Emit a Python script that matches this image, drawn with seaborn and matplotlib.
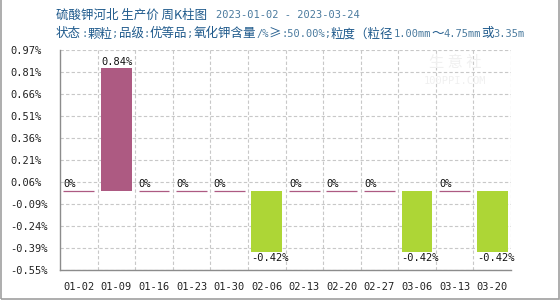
import matplotlib
matplotlib.use("Agg")
import matplotlib.pyplot as plt
import seaborn as sns
import numpy as np
import pandas as pd
import re
from matplotlib.patches import Rectangle

dates = ["01-02", "01-09", "01-16", "01-23", "01-30", "02-06",
         "02-13", "02-20", "02-27", "03-06", "03-13", "03-20"]
values = [0, 0.84, 0, 0, 0, -0.42, 0, 0, 0, -0.42, 0, -0.42]
title_main = "硫酸钾河北 生产价 周K柱图"
title_dates = "2023-01-02 - 2023-03-24"
subtitle = "状态:颗粒;品级:优等品;氧化钾含量/%≥:50.00%;粒度（粒径1.00mm～4.75mm或3.35m"

POS = "#AD5A82"
NEG = "#ADD636"

sns.set_theme(style="white")
plt.rcParams['font.family'] = ['DejaVu Sans Mono', 'Noto Sans CJK SC']

df = pd.DataFrame({"date": dates, "value": values})
colors = {d: (NEG if v < 0 else POS) for d, v in zip(dates, values)}

fig = plt.figure(figsize=(5.6, 3.0), dpi=100)
ax = fig.add_axes([60/560, 30/300, 451/560, 220/300])

sns.barplot(data=df, x="date", y="value", hue="date", palette=colors,
            legend=False, width=0.82, ax=ax, saturation=1,
            edgecolor=None, linewidth=0)

for p, v in zip(ax.patches, values):
    if v == 0:
        p.set_edgecolor(POS)
        p.set_linewidth(0.9)
    else:
        p.set_linewidth(0)

ymin, ymax = -0.546, 0.966
ax.set_ylim(ymin, ymax)
ax.set_xlim(-0.5, len(dates) - 0.5)
yt = np.linspace(ymin, ymax, 11)
ax.set_yticks(yt)
ax.set_yticklabels([f"{t:.2f}%" for t in yt])
for lab in ax.get_yticklabels():
    lab.set_horizontalalignment('left')
ax.tick_params(axis='y', pad=36, labelsize=7.5, length=0, colors='#222222')
ax.tick_params(axis='x', pad=9, labelsize=7.5, length=0, colors='#222222')
ax.set_xlabel("")
ax.set_ylabel("")

# grid
for t in yt:
    ax.axhline(t, color='#C8C8C8', lw=0.8, ls=(0, (3, 2)), zorder=0)
for k in range(1, len(dates) + 1):
    ax.axvline(k - 0.5, color='#C8C8C8', lw=0.8, ls=(0, (3, 2)), zorder=0)

for s in ['top', 'right']:
    ax.spines[s].set_visible(False)
for s in ['left', 'bottom']:
    ax.spines[s].set_color('#8C8C8C')
    ax.spines[s].set_linewidth(1.0)

# value labels
for p, v in zip(ax.patches, values):
    x = p.get_x()
    lab = "0%" if v == 0 else f"{v:.2f}%"
    if v >= 0:
        ax.annotate(lab, (x, v), xytext=(0, 1), textcoords='offset points',
                    ha='left', va='bottom', fontsize=7.5, color='#111111')
    else:
        ax.annotate(lab, (x, v), xytext=(0, -1), textcoords='offset points',
                    ha='left', va='top', fontsize=7.5, color='#111111')

# watermark
fig.text(455/560, 1 - 63/300, "生 意 社", fontsize=11, color='#F0F0F0',
         ha='center', va='center', family=['Noto Sans CJK SC'], zorder=0)
fig.text(455/560, 1 - 81/300, "100PPI.COM", fontsize=7.5, color='#F0F0F0',
         ha='center', va='center', zorder=0)

# titles
fig.text(56/560, 1 - 15/300, title_main, fontsize=9, color='#1F5A8C',
         ha='left', va='center', family=['Noto Sans CJK SC'])
fig.text(216/560, 1 - 15/300, title_dates, fontsize=7.5, color='#4A7A9E',
         ha='left', va='center', family=['DejaVu Sans Mono'])

# subtitle: CJK runs in CJK font, ASCII runs in monospace
fig.canvas.draw()
renderer = fig.canvas.get_renderer()
runs = re.findall(r'[\x00-\x7f]+|[^\x00-\x7f]+', subtitle)
xpix = 56
for r in runs:
    if r.isascii():
        t = fig.text(xpix/560, 1 - 34/300, r, fontsize=7.5, color='#4A7A9E',
                     ha='left', va='center', family=['DejaVu Sans Mono'])
    else:
        t = fig.text(xpix/560, 1 - 34/300, r, fontsize=9, color='#1F5A8C',
                     ha='left', va='center',
                     family=['Noto Sans CJK SC', 'DejaVu Sans'])
    xpix += t.get_window_extent(renderer).width

# figure border
fig.patches.append(Rectangle((0.001, 0.002), 0.997, 1.2, transform=fig.transFigure,
                             fill=False, edgecolor='#A0A0A0', lw=1.2))

fig.savefig("out.png", dpi=100)
